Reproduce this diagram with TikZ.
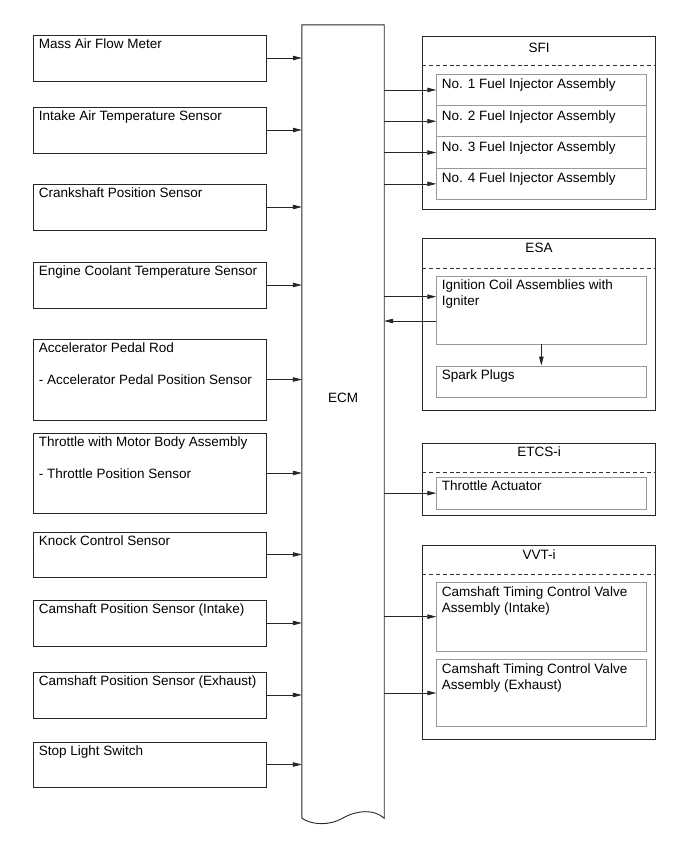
\documentclass[tikz,border=0pt]{standalone}
\usepackage{fontspec}
\setmainfont{Liberation Sans}
\usetikzlibrary{arrows.meta,positioning}

\begin{document}
\begin{tikzpicture}[x=1pt,y=-1pt,
  sens/.style={draw=black!85,line width=0.8pt,minimum width=233pt,inner sep=0pt},
  grp/.style={draw=black!85,line width=0.8pt,minimum width=232.6pt,inner sep=0pt},
  part/.style={draw=black!40,line width=0.9pt,minimum width=209.3pt,inner sep=0pt},
  txt/.style={anchor=north west,inner sep=0pt,align=left,font=\fontsize{13.5pt}{15.8pt}\selectfont},
  ttl/.style={inner sep=0pt,font=\fontsize{13.5pt}{15.8pt}\selectfont},
  sig/.style={draw=black!85,line width=0.7pt,-{Triangle[length=9pt,width=4.5pt]}},
  sep/.style={draw=black!80,line width=0.8pt,dash pattern=on 4pt off 2.8pt}]
\useasboundingbox (0,0) rectangle (690,854);

% ECM
\node[minimum width=82pt,minimum height=793pt,inner sep=0pt] (ecm) at (343,421.5) {};
\draw[line width=0.9pt,draw=black!85] (ecm.south west) -- (ecm.north west) -- (ecm.north east) -- (ecm.south east)
  .. controls (374,809) and (357,810) .. (343,818) .. controls (329,826) and (312,825) .. (ecm.south west);
\node[ttl] (ecm-t) at (343,398) {ECM};

% sensors
\foreach \nm/\cy/\bh/\lbl in {maf/58/46/{Mass Air Flow Meter},
    iat/130/46/{Intake Air Temperature Sensor},
    ckp/207/46/{Crankshaft Position Sensor},
    ect/285/46/{Engine Coolant Temperature Sensor},
    app/379.5/81/{Accelerator Pedal Rod\\[16pt]- Accelerator Pedal Position Sensor},
    tps/473/80/{Throttle with Motor Body Assembly\\[16pt]- Throttle Position Sensor},
    ks/554.5/45/{Knock Control Sensor},
    cmpi/623/46/{Camshaft Position Sensor (Intake)},
    cmpe/695/46/{Camshaft Position Sensor (Exhaust)},
    stp/764.5/45/{Stop Light Switch}} {
  \node[sens,minimum height=\bh pt] (\nm) at (149.5,\cy) {};
  \node[txt] (\nm-t) at ([xshift=6pt,yshift=-4pt]\nm.north west) {\lbl};
  \draw[sig] (\nm.east) -- (\nm.east -| ecm.west);
}

% SFI
\node[grp,minimum height=172.3pt] (sfi) at (539,122.85) {};
\node[ttl] (sfi-t) at (539,48) {SFI};
\draw[sep] ([yshift=-29pt]sfi.north west) -- ([yshift=-29pt]sfi.north east);
\foreach \i in {1,...,4} {
  \node[part,minimum height=31.3pt] (inj\i) at (541.35,58.65+31.3*\i) {};
  \node[txt] (inj\i-t) at ([xshift=5.5pt,yshift=-5pt]inj\i.north west) {No. \i\ Fuel Injector Assembly};
  \draw[sig] (inj\i.west -| ecm.east) -- (inj\i.west);
}

% ESA
\node[grp,minimum height=172.4pt] (esa) at (539,324.5) {};
\node[ttl] (esa-t) at (539,248) {ESA};
\draw[sep] ([yshift=-30pt]esa.north west) -- ([yshift=-30pt]esa.north east);
\node[part,minimum height=68pt] (ign) at (541.35,310) {};
\node[txt] (ign-t) at ([xshift=5.5pt,yshift=-4pt]ign.north west) {Ignition Coil Assemblies with\\Igniter};
\node[part,minimum height=31.5pt] (spk) at (541.35,381.75) {};
\node[txt] (spk-t) at ([xshift=5.5pt,yshift=-3.5pt]spk.north west) {Spark Plugs};
\draw[sig] ([yshift=13.3pt]ign.west -| ecm.east) -- ([yshift=13.3pt]ign.west);
\draw[sig] ([yshift=-11pt]ign.west) -- ([yshift=-11pt]ign.west -| ecm.east);
\draw[sig] (ign.south) -- (spk.north);

% ETCS-i
\node[grp,minimum height=72.4pt] (etcs) at (539,479.5) {};
\node[ttl] (etcs-t) at (539,452) {ETCS-i};
\draw[sep] ([yshift=-29pt]etcs.north west) -- ([yshift=-29pt]etcs.north east);
\node[part,minimum height=31.7pt] (tha) at (541.35,493.15) {};
\node[txt] (tha-t) at ([xshift=5.5pt,yshift=-3.5pt]tha.north west) {Throttle Actuator};
\draw[sig] (tha.west -| ecm.east) -- (tha.west);

% VVT-i
\node[grp,minimum height=193.3pt] (vvt) at (539,642.35) {};
\node[ttl] (vvt-t) at (539,555) {VVT-i};
\draw[sep] ([yshift=-29.3pt]vvt.north west) -- ([yshift=-29.3pt]vvt.north east);
\node[part,minimum height=68.7pt] (ocvi) at (541.35,616.65) {};
\node[txt] (ocvi-t) at ([xshift=5.5pt,yshift=-4.5pt]ocvi.north west) {Camshaft Timing Control Valve\\Assembly (Intake)};
\node[part,minimum height=67.4pt] (ocve) at (541.35,693) {};
\node[txt] (ocve-t) at ([xshift=5.5pt,yshift=-4.5pt]ocve.north west) {Camshaft Timing Control Valve\\Assembly (Exhaust)};
\draw[sig] (ocvi.west -| ecm.east) -- (ocvi.west);
\draw[sig] (ocve.west -| ecm.east) -- (ocve.west);
\end{tikzpicture}
\end{document}
